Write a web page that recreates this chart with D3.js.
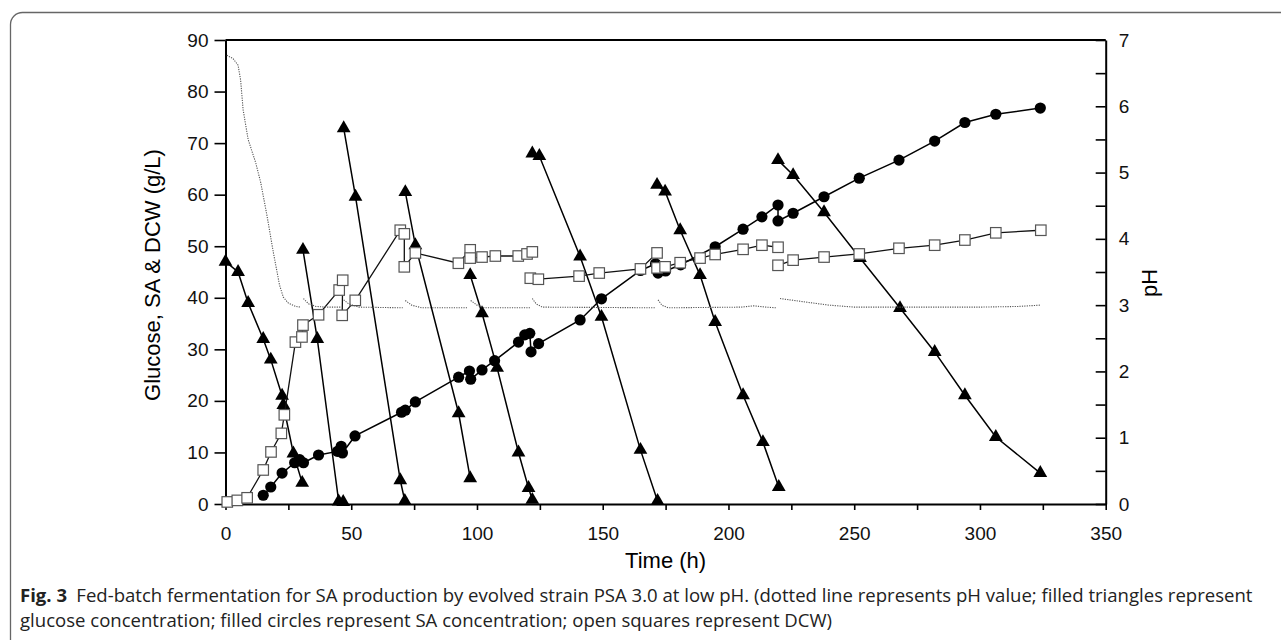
<!DOCTYPE html>
<html>
<head>
<meta charset="utf-8">
<script src="https://cdn.jsdelivr.net/npm/d3@7"></script>
<style>
  body { margin: 0; background: #fff; }
  svg { display: block; }
</style>
</head>
<body>
<svg id="chart"></svg>
<script>
'use strict'

const width = 1281,
      height = 640

// tick values
const timeTicks = [0, 50, 100, 150, 200, 250, 300, 350]
const timeMinorTicks = [25, 75, 125, 175, 225, 275, 325]
const concTicks = [0, 10, 20, 30, 40, 50, 60, 70, 80, 90]
const phTicks = [0, 0.5, 1, 1.5, 2, 2.5, 3, 3.5, 4, 4.5, 5, 5.5, 6, 6.5, 7]
const phLabels = [0, 1, 2, 3, 4, 5, 6, 7]

// glucose (g/L), one array per feeding cycle: [time h, value]
const glucose1 = [[0, 47], [5, 45], [9, 39], [15, 32], [18, 28], [22.5, 21], [23, 19.2], [27, 9.8], [30.5, 4.1]]
const glucose2 = [[30.8, 49.3], [36.5, 32], [45, 0.5], [46.8, 0.4]]
const glucose3 = [[47, 72.9], [51.7, 59.6], [69.5, 4.6], [71.3, 0.6]]
const glucose4 = [[71.5, 60.5], [75.5, 50.2], [92.7, 17.6], [97.3, 5]]
const glucose5 = [[97.3, 44.4], [102, 37], [108, 26.4], [116.5, 10], [120.5, 3.1], [122, 0.8]]
const glucose6 = [[122, 68], [124.8, 67.5], [141, 48], [149.5, 36.3], [165, 10.5], [171.8, 0.6]]
const glucose7 = [[171.6, 61.9], [174.8, 60.6], [180.8, 53.1], [188.7, 44.4], [194.7, 35.3], [205.8, 21.1], [213.7, 12], [220, 3.3]]
const glucose8 = [[219.7, 66.7], [225.7, 63.8], [238, 56.6], [252.3, 47.7], [268.2, 38], [282, 29.5], [294, 21.1], [306.3, 13], [324, 6]]

// succinic acid (g/L)
const sa = [[15, 1.7], [18, 3.3], [22.5, 6], [27.5, 8], [29.5, 8.6], [31, 8], [37, 9.5], [44.5, 10.2], [46, 11.2], [46.5, 9.9],
  [51.5, 13.2], [70, 17.8], [71.5, 18.2], [75.5, 19.8], [92.7, 24.6], [97, 25.8], [97.5, 24.2], [102, 26], [107, 27.8],
  [116.5, 31.4], [119, 32.8], [121, 33.1], [121.5, 29.5], [124.5, 31.1], [141, 35.7], [149.5, 39.8], [165, 45.3],
  [171, 46.6], [172, 44.8], [175, 45.2], [181, 46.4], [194.7, 49.9], [205.8, 53.3], [213.3, 55.7], [219.7, 58],
  [219.7, 54.9], [225.7, 56.4], [238, 59.6], [252, 63.2], [267.8, 66.7], [282, 70.4], [294, 74], [306.3, 75.6], [324, 76.8]]

// dry cell weight (g/L)
const dcw1 = [[0.7, 0.4], [4.7, 0.7], [8.6, 1.2], [15, 6.6], [18.1, 10.1], [22.2, 13.7], [23.4, 17.3], [27.8, 31.4],
  [30.4, 32.4], [30.8, 34.7], [37, 36.7], [45.2, 41.5], [46.6, 43.4], [46.4, 36.6], [51.6, 39.5], [69.5, 53.1],
  [71.1, 52.4], [71.1, 46], [75.5, 48.7], [92.6, 46.7], [97.3, 49.3], [97.3, 47.7], [102, 47.9], [107.3, 48.1],
  [116.4, 48.1], [119.9, 48.5], [122, 48.9]]
const dcw2 = [[121.2, 43.8], [124.4, 43.6], [140.6, 44.2], [148.6, 44.8], [165, 45.6], [171.6, 48.7], [171.6, 45.8],
  [174.8, 46], [180.8, 46.8], [188.7, 47.7], [194.7, 48.4], [205.8, 49.4], [213.3, 50.2], [219.7, 49.8]]
const dcw3 = [[219.7, 46.3], [225.7, 47.3], [238, 47.9], [252, 48.5], [267.8, 49.6], [282, 50.2], [294, 51.2], [306.3, 52.6], [324.2, 53.1]]

// pH (right axis)
const ph1 = [[0.5, 6.77], [3, 6.72], [5, 6.62], [6, 6.4], [7, 5.95], [9, 5.5], [12, 5.15], [14, 4.85], [16.5, 4.35],
  [19, 3.8], [21.5, 3.3], [23, 3.12], [25, 3.03], [28, 2.98], [30, 2.97]]
const ph2 = [[31, 3.1], [33, 3.02], [36, 2.98], [40, 2.97], [46, 2.97]]
const ph3 = [[47, 3.08], [49, 3.02], [53, 2.97], [70.5, 2.96]]
const ph4 = [[71.5, 3.07], [74, 3.0], [78, 2.96], [96.5, 2.96]]
const ph5 = [[97.5, 3.07], [100, 3.0], [103, 2.96], [121.5, 2.96]]
const ph6 = [[122, 3.1], [123.5, 3.02], [126, 2.97], [171, 2.96]]
const ph7 = [[172, 3.08], [173.5, 3.0], [176, 2.96], [205, 2.97], [210, 2.99], [215, 2.97], [219, 2.96]]
const ph8 = [[220.5, 3.1], [230, 3.05], [240, 3.0], [250, 2.97], [300, 2.97], [315, 2.98], [324, 3.0]]

const glucoseCycles = [glucose1, glucose2, glucose3, glucose4, glucose5, glucose6, glucose7, glucose8]
const dcwSegments = [dcw1, dcw2, dcw3]
const phSegments = [ph1, ph2, ph3, ph4, ph5, ph6, ph7, ph8]

const captionLine1 = 'Fed-batch fermentation for SA production by evolved strain PSA 3.0 at low pH. (dotted line represents pH value; filled triangles represent'
const captionLine2 = 'glucose concentration; filled circles represent SA concentration; open squares represent DCW)'

const svg = d3.select('#chart')
  .attr('width', width)
  .attr('height', height)

// frame of the figure (rounded corner, open to the right and bottom)
svg.append('rect')
  .attr('x', 10.5).attr('y', 12.5)
  .attr('width', 1400).attr('height', 800)
  .attr('rx', 12)
  .attr('fill', 'none')
  .attr('stroke', '#666')
  .attr('stroke-width', 1.3)

const x = d3.scaleLinear().domain([0, 350]).range([225.5, 1105.7])
const yLeft = d3.scaleLinear().domain([0, 90]).range([504, 40])
const yRight = d3.scaleLinear().domain([0, 7]).range([504, 40])

const axisFont = 'Arial, "Liberation Sans", sans-serif'

// top border
svg.append('line')
  .attr('x1', x(0)).attr('x2', x(350))
  .attr('y1', yLeft(90)).attr('y2', yLeft(90))
  .attr('stroke', '#000').attr('stroke-width', 2)

function styleAxis(g) {
  g.select('.domain').attr('stroke-width', 2)
  g.selectAll('.tick line').attr('stroke-width', 1.6)
  g.selectAll('.tick text')
    .attr('font-family', axisFont)
    .attr('font-size', 19)
    .attr('fill', '#111')
}

// x axis: minor ticks first, then major ticks with labels
svg.append('g')
  .attr('transform', `translate(0,${yLeft(0)})`)
  .call(d3.axisBottom(x).tickValues(timeMinorTicks).tickSize(6).tickFormat(''))
  .call(g => g.select('.domain').remove())
  .call(g => g.selectAll('.tick line').attr('stroke-width', 1.6))

svg.append('g')
  .attr('transform', `translate(0,${yLeft(0)})`)
  .call(d3.axisBottom(x).tickValues(timeTicks).tickSize(6).tickSizeOuter(0).tickPadding(17))
  .call(styleAxis)

// left axis
svg.append('g')
  .attr('transform', `translate(${x(0)},0)`)
  .call(d3.axisLeft(yLeft).tickValues(concTicks).tickSize(11).tickSizeOuter(0).tickPadding(6))
  .call(styleAxis)

// right axis, ticks pointing inwards
svg.append('g')
  .attr('transform', `translate(${x(350)},0)`)
  .call(d3.axisRight(yRight).tickValues(phTicks).tickSize(-10).tickSizeOuter(0).tickPadding(13)
    .tickFormat(d => phLabels.includes(d) ? d : ''))
  .call(styleAxis)

// axis titles
svg.append('text')
  .attr('x', (x(0) + x(350)) / 2).attr('y', 568)
  .attr('text-anchor', 'middle')
  .attr('font-family', axisFont).attr('font-size', 22)
  .text('Time (h)')

svg.append('text')
  .attr('transform', 'translate(160,275) rotate(-90)')
  .attr('text-anchor', 'middle')
  .attr('font-family', axisFont).attr('font-size', 22)
  .text('Glucose, SA & DCW (g/L)')

svg.append('text')
  .attr('transform', 'translate(1157,283) rotate(-90)')
  .attr('text-anchor', 'middle')
  .attr('font-family', axisFont).attr('font-size', 22)
  .text('pH')

const lineLeft = d3.line().x(d => x(d[0])).y(d => yLeft(d[1]))
const lineRight = d3.line().x(d => x(d[0])).y(d => yRight(d[1]))

// glucose: filled triangles
const gGlucose = svg.append('g')
gGlucose.selectAll('path.cycle')
  .data(glucoseCycles)
  .enter().append('path')
    .attr('class', 'cycle')
    .attr('d', lineLeft)
    .attr('fill', 'none')
    .attr('stroke', '#000')
    .attr('stroke-width', 1.5)
gGlucose.selectAll('path.marker')
  .data(glucoseCycles.flat())
  .enter().append('path')
    .attr('class', 'marker')
    .attr('transform', d => `translate(${x(d[0])},${yLeft(d[1])})`)
    .attr('d', d3.symbol().type(d3.symbolTriangle).size(82))
    .attr('fill', '#000')

// SA: filled circles
const gSa = svg.append('g')
gSa.append('path')
  .datum(sa)
  .attr('d', lineLeft)
  .attr('fill', 'none')
  .attr('stroke', '#000')
  .attr('stroke-width', 1.5)
gSa.selectAll('circle')
  .data(sa)
  .enter().append('circle')
    .attr('cx', d => x(d[0]))
    .attr('cy', d => yLeft(d[1]))
    .attr('r', 5.6)
    .attr('fill', '#000')

// DCW: open squares
const gDcw = svg.append('g')
gDcw.selectAll('path')
  .data(dcwSegments)
  .enter().append('path')
    .attr('d', lineLeft)
    .attr('fill', 'none')
    .attr('stroke', '#111')
    .attr('stroke-width', 1.3)
const sq = 10.5
gDcw.selectAll('rect')
  .data(dcwSegments.flat())
  .enter().append('rect')
    .attr('x', d => x(d[0]) - sq / 2)
    .attr('y', d => yLeft(d[1]) - sq / 2)
    .attr('width', sq)
    .attr('height', sq)
    .attr('fill', '#fff')
    .attr('stroke', '#555')
    .attr('stroke-width', 1.2)

// pH: dotted line
svg.append('g').selectAll('path')
  .data(phSegments)
  .enter().append('path')
    .attr('d', lineRight)
    .attr('fill', 'none')
    .attr('stroke', '#555')
    .attr('stroke-width', 1.1)
    .attr('stroke-dasharray', '1.2,1.2')

// caption, squeezed horizontally to the width of the original condensed face
const capFont = '"Open Sans", "Noto Sans", sans-serif'
const cap = svg.append('g')
const cap1 = cap.append('text')
  .attr('y', 602)
  .attr('font-family', capFont).attr('font-size', 18).attr('fill', '#222')
cap1.append('tspan').attr('font-weight', 'bold').text('Fig. 3')
cap1.append('tspan').attr('dx', 9).text(captionLine1)
cap.append('text')
  .attr('y', 627)
  .attr('font-family', capFont).attr('font-size', 18).attr('fill', '#222')
  .text(captionLine2)

const natural = cap1.node().getComputedTextLength() + 9
const k = 1234 / natural
cap.attr('transform', `translate(20,0) scale(${k},1)`)
</script>
</body>
</html>
